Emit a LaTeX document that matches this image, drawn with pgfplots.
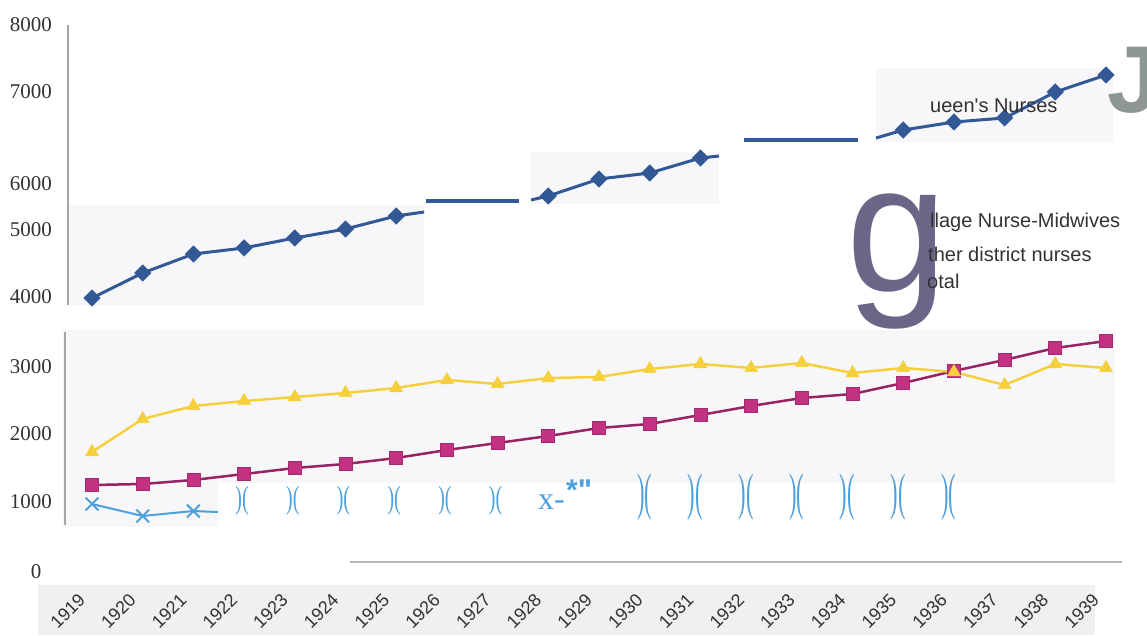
\documentclass[border=0pt]{standalone}
\usepackage{fontspec}
\setmainfont{Liberation Serif}
\newfontfamily\arial{Liberation Sans}
\usepackage{graphicx}
\usepackage{pgfplots}
\pgfplotsset{compat=1.18}
\definecolor{qblue}{RGB}{50,88,150}
\definecolor{mline}{RGB}{150,35,100}
\definecolor{mfill}{RGB}{195,50,130}
\definecolor{yel}{RGB}{246,208,60}
\definecolor{lblue}{RGB}{78,160,220}
\definecolor{gcol}{RGB}{107,101,135}
\definecolor{jcol}{RGB}{142,150,150}
\definecolor{patch}{RGB}{247,247,249}
\definecolor{band}{RGB}{240,240,240}
\definecolor{axgray}{RGB}{165,165,165}
\definecolor{tickcol}{RGB}{50,50,50}
\definecolor{legcol}{RGB}{50,50,50}
\newcommand{\smallpar}{\scalebox{0.62}[1]{\fontsize{32}{32}\selectfont )(}}
\newcommand{\tallpar}{\scalebox{0.7}[1.6]{\fontsize{32}{32}\selectfont )(}}
\begin{document}
\begin{tikzpicture}[x=1pt,y=1pt]
% background patches (image px -> (px, 635-py))
\fill[band] (38,0) rectangle (1095,50);
\fill[patch] (68,330) rectangle (424,430);
\fill[patch] (531,431) rectangle (719,483);
\fill[patch] (876,493) rectangle (1113,567);
\fill[patch] (63,108) rectangle (1115,305);
\fill[white] (218,88) rectangle (1147,152);
\draw[axgray, line width=1.5pt] (68,330) -- (68,610);
\draw[axgray, line width=1.5pt] (65,110) -- (65,303);
\draw[axgray!80, line width=2pt] (350,73) -- (1122,73);
\begin{axis}[
  at={(0pt,0pt)}, anchor=south west,
  scale only axis, width=1147pt, height=635pt,
  xmin=1917.1854, xmax=1939.8087, ymin=-921.4, ymax=8365.6,
  axis line style={draw=none}, major tick length=0pt,
  clip=false,
  xtick={1919,1920,1921,1922,1923,1924,1925,1926,1927,1928,1929,1930,1931,1932,1933,1934,1935,1936,1937,1938,1939},
  xticklabels={1919,1920,1921,1922,1923,1924,1925,1926,1927,1928,1929,1930,1931,1932,1933,1934,1935,1936,1937,1938,1939},
  xticklabel style={font=\arial\fontsize{18}{18}\selectfont, text=tickcol, inner sep=0pt, xshift=-10pt, yshift=38pt, rotate=45, anchor=east},
  ytick={0,1024,2018,2998,4022,5002,5675,7020,8000},
  yticklabels={0\hphantom{0},1000,2000,3000,4000,5000,6000,7000,8000},
  yticklabel style={font=\fontsize{21}{21}\selectfont, text=tickcol, inner sep=0pt, anchor=east, xshift=52pt},
]
% Queen's Nurses / total (top series), visible pieces
\addplot[qblue, line width=3pt, mark=square*, mark size=4.6pt, mark options={rotate=45, solid}, mark indices={1,2,3,4,5,6,7}]
  coordinates {(1919,4007)(1920,4373)(1921,4651)(1922,4739)(1923,4885)(1924,5016)(1925,5207)(1925.55,5265)};
\addplot[qblue, line width=4pt, no marks] coordinates {(1925.588,5426)(1927.422,5426)};
\addplot[qblue, line width=3pt, mark=square*, mark size=4.6pt, mark options={rotate=45, solid}, mark indices={2,3,4,5}]
  coordinates {(1927.66,5441)(1928,5499)(1929,5748)(1930,5835)(1931,6055)(1931.367,6084)};
\addplot[qblue, line width=4pt, no marks] coordinates {(1931.86,6318)(1934.108,6318)};
\addplot[qblue, line width=3pt, mark=square*, mark size=4.6pt, mark options={rotate=45, solid}, mark indices={2,3,4,5,6,7}]
  coordinates {(1934.464,6347)(1935,6464)(1936,6581)(1937,6640)(1938,7020)(1939,7269)};
% magenta squares
\addplot[mline, line width=2.5pt, mark=square*, mark size=6.5pt, mark options={fill=mfill, draw=mfill!85!black, line width=0.8pt}]
  coordinates {(1919,1272)(1920,1287)(1921,1346)(1922,1433)(1923,1521)(1924,1580)(1925,1667)(1926,1784)(1927,1887)(1928,1989)(1929,2106)(1930,2165)(1931,2296)(1932,2428)(1933,2545)(1934,2603)(1935,2764)(1936,2940)(1937,3101)(1938,3276)(1939,3378)};
% yellow triangles
\addplot[yel, line width=2.5pt, mark=triangle*, mark size=7.5pt, mark options={fill=yel, draw=yel, line width=0.5pt}]
  coordinates {(1919,1755)(1920,2238)(1921,2428)(1922,2501)(1923,2559)(1924,2618)(1925,2691)(1926,2808)(1927,2750)(1928,2837)(1929,2852)(1930,2969)(1931,3042)(1932,2984)(1933,3057)(1934,2910)(1935,2984)(1936,2925)(1937,2735)(1938,3042)(1939,2984)};
% light blue crosses
\addplot[lblue, line width=2pt, mark=x, mark size=9pt, mark options={line width=2pt}, mark indices={1,2,3}]
  coordinates {(1919,994)(1920,819)(1921,892)(1921.485,877)};
% broken glyphs of the light blue series
\node[text=lblue, inner sep=0pt] at (axis cs:1921.96,1038) {\smallpar};
\node[text=lblue, inner sep=0pt] at (axis cs:1922.96,1038) {\smallpar};
\node[text=lblue, inner sep=0pt] at (axis cs:1923.96,1038) {\smallpar};
\node[text=lblue, inner sep=0pt] at (axis cs:1924.96,1038) {\smallpar};
\node[text=lblue, inner sep=0pt] at (axis cs:1925.96,1038) {\smallpar};
\node[text=lblue, inner sep=0pt] at (axis cs:1926.96,1038) {\smallpar};
\node[text=lblue, inner sep=0pt, anchor=base west] at (axis cs:1927.797,921) {\fontsize{32}{32}\selectfont x-};
\node[text=lblue, inner sep=0pt, anchor=base west] at (axis cs:1928.349,1046) {\arial\bfseries\fontsize{30}{30}\selectfont *"};
\node[text=lblue, inner sep=0pt] at (axis cs:1929.9,1090) {\tallpar};
\node[text=lblue, inner sep=0pt] at (axis cs:1930.9,1090) {\tallpar};
\node[text=lblue, inner sep=0pt] at (axis cs:1931.9,1090) {\tallpar};
\node[text=lblue, inner sep=0pt] at (axis cs:1932.9,1090) {\tallpar};
\node[text=lblue, inner sep=0pt] at (axis cs:1933.9,1090) {\tallpar};
\node[text=lblue, inner sep=0pt] at (axis cs:1934.9,1090) {\tallpar};
\node[text=lblue, inner sep=0pt] at (axis cs:1935.9,1090) {\tallpar};
\end{axis}
% legend fragments
\node[anchor=base west, inner sep=0pt, font=\arial\fontsize{182}{182}\selectfont, text=gcol] at (846,343) {g};
\node[anchor=base west, inner sep=0pt, font=\arial\bfseries\fontsize{95}{95}\selectfont, text=jcol] at (1107,522) {J};
\node[anchor=base west, inner sep=0pt, font=\arial\fontsize{20}{20}\selectfont, text=legcol] at (930,522) {ueen's Nurses};
\node[anchor=base west, inner sep=0pt, font=\arial\fontsize{20}{20}\selectfont, text=legcol] at (930,407) {llage Nurse-Midwives};
\node[anchor=base west, inner sep=0pt, font=\arial\fontsize{20}{20}\selectfont, text=legcol] at (928,373) {ther district nurses};
\node[anchor=base west, inner sep=0pt, font=\arial\fontsize{20}{20}\selectfont, text=legcol] at (927,346) {otal};
\pgfresetboundingbox
\useasboundingbox (0,0) rectangle (1147,635);
\end{tikzpicture}
\end{document}
